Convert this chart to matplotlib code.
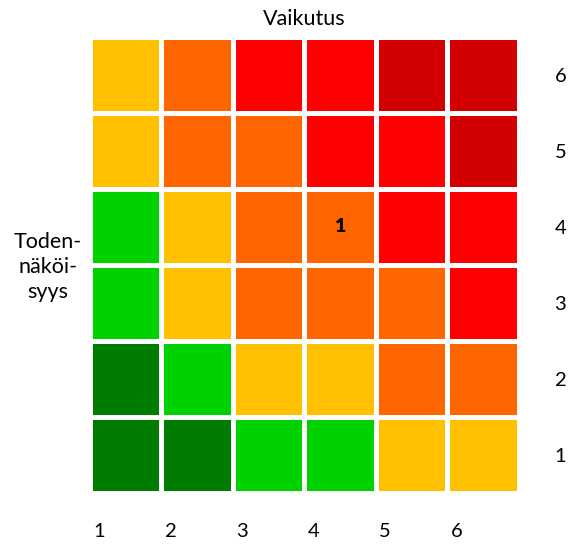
import numpy as np
import matplotlib
matplotlib.use("Agg")
import matplotlib.pyplot as plt
from matplotlib.colors import ListedColormap, BoundaryNorm

plt.rcParams['font.family'] = ['Lato', 'DejaVu Sans']

# Risk matrix: impact (columns) x likelihood (rows, bottom to top)
impact_labels = ["1", "2", "3", "4", "5", "6"]
likelihood_labels = ["1", "2", "3", "4", "5", "6"]

# Risk level per cell: 0 very low .. 5 critical
risk_level = [
    [0, 0, 1, 1, 2, 2],  # likelihood 1
    [0, 1, 2, 2, 3, 3],  # likelihood 2
    [1, 2, 3, 3, 3, 4],  # likelihood 3
    [1, 2, 3, 3, 4, 4],  # likelihood 4
    [2, 3, 3, 4, 4, 5],  # likelihood 5
    [2, 3, 4, 4, 5, 5],  # likelihood 6
]
level_colors = ["#007C00", "#00D200", "#FFC000", "#FF6600", "#FF0000", "#D20000"]

# Number of identified risks in each cell (impact, likelihood, count)
risk_impact = [4]
risk_likelihood = [4]
risk_count = [1]

fig = plt.figure(figsize=(5.71, 5.46), dpi=100)
ax = fig.add_axes([89.5 / 571, 1 - 492.5 / 546, 429 / 571, 456 / 546])

levels = np.array(risk_level)
cmap = ListedColormap(level_colors)
norm = BoundaryNorm(np.arange(-0.5, len(level_colors) + 0.5), cmap.N)
edges_x = np.arange(len(impact_labels) + 1) + 0.5
edges_y = np.arange(len(likelihood_labels) + 1) + 0.5
ax.pcolormesh(edges_x, edges_y, levels, cmap=cmap, norm=norm,
              edgecolors="white", linewidth=2.4)
ax.set_xlim(edges_x[0], edges_x[-1])
ax.set_ylim(edges_y[0], edges_y[-1])

for s in ax.spines.values():
    s.set_visible(False)

# Impact numbers sit under the left edge of each column
ax.set_xticks(np.arange(1, len(impact_labels) + 1) - 0.5 + 0.05)
ax.set_xticklabels(impact_labels, ha="left", fontsize=14.5)
ax.tick_params(axis="x", length=0, pad=22)

# Likelihood numbers on the right side
ax.yaxis.tick_right()
ax.set_yticks(np.arange(1, len(likelihood_labels) + 1))
ax.set_yticklabels(likelihood_labels, fontsize=14.5)
ax.tick_params(axis="y", length=0, pad=26)

for xi, yi, n in zip(risk_impact, risk_likelihood, risk_count):
    ax.text(xi, yi, str(n), ha="center", va="center",
            fontsize=14, fontweight="heavy", color="black")

fig.text(304 / 571, 1 - 19 / 546, "Vaikutus", ha="center", va="center", fontsize=15.5)
fig.text(48 / 571, 1 - 267 / 546, "Toden-\nnäköi-\nsyys", ha="center", va="center",
         fontsize=15.5, linespacing=1.3)

fig.savefig("out.png", dpi=100, facecolor="white")
